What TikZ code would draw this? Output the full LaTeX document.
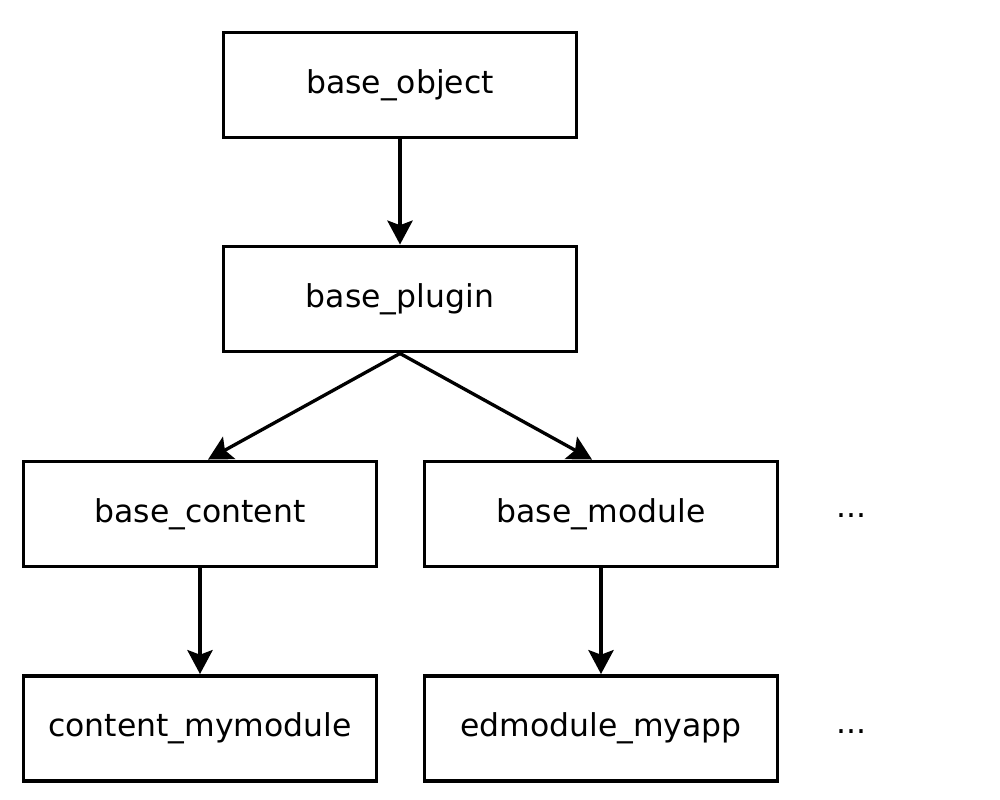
\documentclass[tikz,border=0pt]{standalone}
\usepackage{fontspec}
\setmainfont{DejaVu Sans}
\usetikzlibrary{arrows.meta,calc}
\begin{document}
\begin{tikzpicture}[x=0.75pt,y=-0.75pt,
  box/.style={draw=black,line width=2.7pt,minimum width=265pt,minimum height=79pt,inner sep=0pt,font=\fontsize{23.6}{27}\selectfont},
  dots/.style={font=\fontsize{23.6}{27}\selectfont,inner sep=0pt},
  arr/.style={line width=2.5pt,-{Stealth[length=18pt,width=19pt,inset=3.5pt]}}]
\useasboundingbox (0,0) rectangle (1000,800);
\node[box] (obj) at (400,85) {base\_object};
\node[box] (plug) at (400,299) {base\_plugin};
\node[box] (cont) at (200,514) {base\_content};
\node[box] (mod) at (601,514) {base\_module};
\node[box] (cmy) at (200,728.5) {content\_mymodule};
\node[box] (edm) at (601,728.5) {edmodule\_myapp};
\node[dots] (d1) at (851,516) {...};
\node[dots] (d2) at (851,732) {...};
\coordinate (ct) at ($(cont.north)+(8,0)$);
\coordinate (mt) at ($(mod.north)+(-9,0)$);
\draw[arr] (obj.south) -- (plug.north);
\draw[arr] (plug.south) -- (ct);
\draw[arr] (plug.south) -- (mt);
\draw[arr] (cont.south) -- (cmy.north);
\draw[arr] (mod.south) -- (edm.north);
\end{tikzpicture}
\end{document}
